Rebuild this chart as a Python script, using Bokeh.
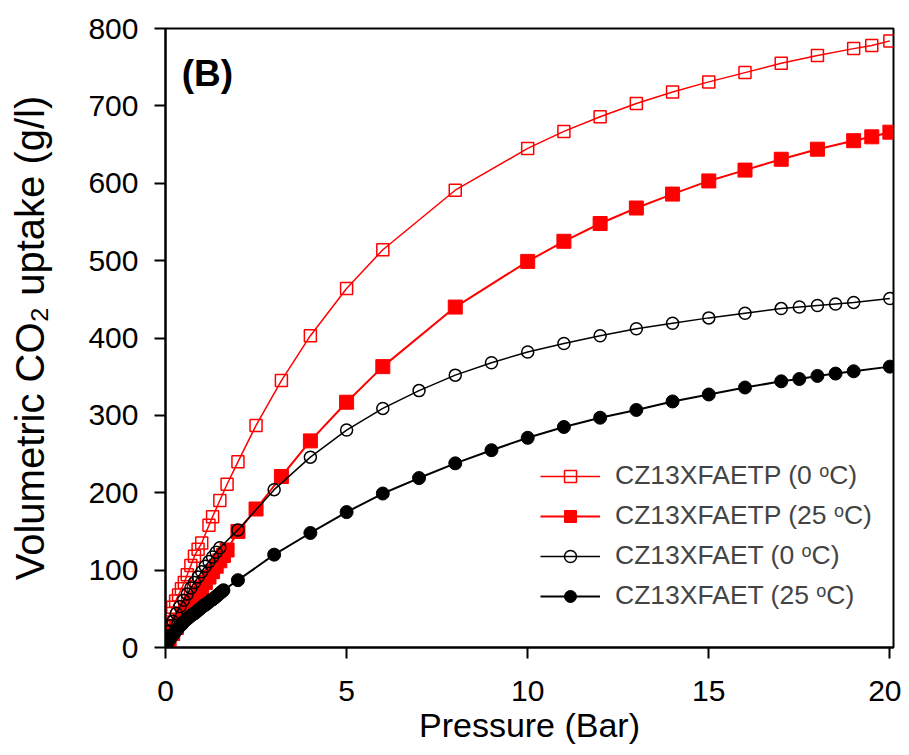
from bokeh.plotting import figure
from bokeh.models import Range1d, Legend, LegendItem, Label, FixedTicker
from bokeh.embed import file_html
from bokeh.resources import INLINE

# ---- data ----
x_ticks = [0, 5, 10, 15, 20]
y_ticks = [0, 100, 200, 300, 400, 500, 600, 700, 800]

labels = ["CZ13XFAETP (0 \u1d52C)", "CZ13XFAETP (25 \u1d52C)",
          "CZ13XFAET (0 \u1d52C)", "CZ13XFAET (25 \u1d52C)"]

p1 = [0, 0.01, 0.03, 0.06, 0.12, 0.2, 0.28, 0.36, 0.44, 0.52, 0.6, 0.7, 0.8, 0.9, 1.0,
      1.2, 1.3, 1.5, 1.7, 2.0, 2.5, 3.2, 4.0, 5.0, 6.0, 8.0, 10.0, 11.0, 12.0, 13.0,
      14.0, 15.0, 16.0, 17.0, 18.0, 19.0, 19.5, 20.0]
v1 = [0, 12, 22, 33, 44, 52, 60, 68, 76, 84, 94, 106, 118, 127, 135,
      158, 169, 190, 211, 240, 287, 345, 403, 464, 514, 591, 645, 667, 686, 703,
      718, 731, 743, 755, 765, 774, 778, 784]

p2 = [0, 0.05, 0.1, 0.2, 0.3, 0.4, 0.5, 0.6, 0.7, 0.8, 0.9, 1.0, 1.1, 1.2, 1.3, 1.4,
      1.5, 1.6, 1.7, 2.0, 2.5, 3.2, 4.0, 5.0, 6.0, 8.0, 10.0, 11.0, 12.0, 13.0, 14.0,
      15.0, 16.0, 17.0, 18.0, 19.0, 19.5, 20.0]
v2 = [0, 5, 10, 18, 26, 34, 41, 49, 56, 63, 70, 77, 84, 91, 98, 105,
      112, 119, 126, 150, 179, 221, 267, 317, 363, 440, 499, 525, 548, 568, 586,
      603, 617, 631, 644, 655, 660, 666]

p3 = [0, 0.02, 0.05, 0.1, 0.15, 0.2, 0.3, 0.4, 0.5, 0.6, 0.7, 0.8, 0.9, 1.0, 1.1,
      1.2, 1.3, 1.4, 1.5, 2.0, 3.0, 4.0, 5.0, 6.0, 7.0, 8.0, 9.0, 10.0, 11.0, 12.0,
      13.0, 14.0, 15.0, 16.0, 17.0, 17.5, 18.0, 18.5, 19.0, 20.0]
v3 = [0, 6, 13, 21, 28, 34, 44, 53, 61, 69, 77, 84, 91, 98, 105,
      111, 117, 123, 129, 152, 204, 246, 281, 309, 332, 352, 368, 382, 393, 403,
      412, 419, 426, 432, 438, 440, 442, 444, 446, 451]

p4 = [0, 0.02, 0.05, 0.1, 0.15, 0.2, 0.25, 0.3, 0.35, 0.4, 0.45, 0.5, 0.55, 0.6, 0.65,
      0.7, 0.75, 0.8, 0.85, 0.9, 0.95, 1.0, 1.05, 1.1, 1.15, 1.2, 1.25, 1.3, 1.35, 1.4,
      1.45, 1.5, 1.55, 1.6, 2.0, 3.0, 4.0, 5.0, 6.0, 7.0, 8.0, 9.0, 10.0, 11.0, 12.0,
      13.0, 14.0, 15.0, 16.0, 17.0, 17.5, 18.0, 18.5, 19.0, 20.0]
v4 = [0, 3, 6, 10, 13, 16, 19, 22, 25, 28, 30, 33, 35, 37, 39,
      41, 43, 44, 46, 48, 50, 52, 54, 55, 57, 59, 61, 62, 64, 66,
      68, 70, 72, 74, 87, 120, 148, 175, 199, 219, 238, 255, 271, 285, 297,
      307, 318, 327, 336, 344, 347, 351, 354, 357, 363]

FONT = "Liberation Sans"

p = figure(width=901, height=753, output_backend="svg", toolbar_location=None,
           x_range=Range1d(0, 20.1), y_range=Range1d(0, 800),
           min_border_left=165, min_border_right=8, min_border_top=28, min_border_bottom=106,
           x_axis_label="Pressure (Bar)", y_axis_label="Volumetric CO\u2082 uptake (g/l)")

p.grid.visible = False
p.outline_line_color = "black"
p.outline_line_width = 2
p.outline_line_alpha = 1

for ax in (p.xaxis[0], p.yaxis[0]):
    ax.axis_line_width = 2
    ax.major_tick_line_width = 2
    ax.major_tick_out = 11
    ax.major_tick_in = 0
    ax.minor_tick_out = 0
    ax.minor_tick_in = 0
    ax.major_label_text_font = FONT
    ax.major_label_text_font_size = "30px"
    ax.major_label_text_color = "black"
    ax.axis_label_text_font = FONT
    ax.axis_label_text_font_style = "normal"
    ax.axis_label_text_color = "black"

p.xaxis.ticker = FixedTicker(ticks=x_ticks)
p.yaxis.ticker = FixedTicker(ticks=y_ticks)
p.xaxis.major_label_standoff = 22
p.xaxis.axis_label_standoff = 2
p.xaxis.axis_label_text_font_size = "34px"
p.yaxis.major_label_standoff = 16
p.yaxis.axis_label_standoff = 33
p.yaxis.axis_label_text_font_size = "40px"

l1 = p.line(p1, v1, line_color="#ff0000", line_width=1.5)
s1 = p.scatter(p1, v1, marker="square", size=12, fill_color=None,
               line_color="#ff0000", line_width=1.5)
l2 = p.line(p2, v2, line_color="#ff0000", line_width=2)
s2 = p.scatter(p2, v2, marker="square", size=14, fill_color="#ff0000",
               line_color="#ff0000", line_width=1)
l3 = p.line(p3, v3, line_color="black", line_width=1.5)
s3 = p.scatter(p3, v3, marker="circle", size=12, fill_color=None,
               line_color="black", line_width=1.5)
l4 = p.line(p4, v4, line_color="black", line_width=2)
s4 = p.scatter(p4, v4, marker="circle", size=13, fill_color="black",
               line_color="black", line_width=1)

legend = Legend(items=[LegendItem(label=labels[0], renderers=[l1, s1]),
                       LegendItem(label=labels[1], renderers=[l2, s2]),
                       LegendItem(label=labels[2], renderers=[l3, s3]),
                       LegendItem(label=labels[3], renderers=[l4, s4])],
                location=(375, 36), padding=0, margin=0, spacing=9,
                glyph_width=60, glyph_height=30, label_height=30,
                label_standoff=15, label_text_font=FONT,
                label_text_font_size="26.5px", border_line_color=None,
                background_fill_alpha=0)
p.add_layout(legend, "center")

p.add_layout(Label(x=0.45, y=742, text="(B)", text_font=FONT, text_font_size="37px",
                   text_font_style="bold", text_baseline="alphabetic", text_color="black"))

open("out.html", "w").write(file_html(p, INLINE))
